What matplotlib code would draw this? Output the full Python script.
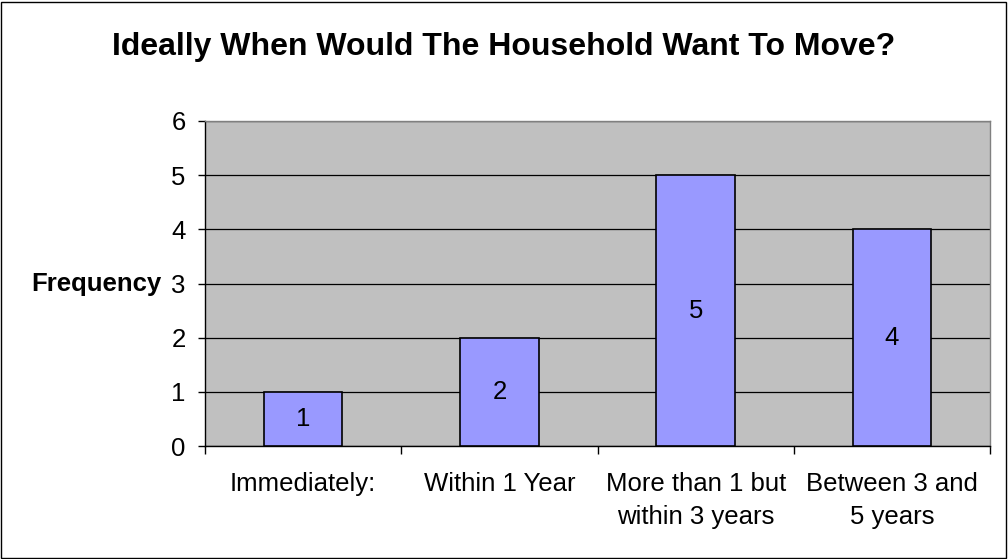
import matplotlib
matplotlib.use("Agg")
import matplotlib.pyplot as plt
from matplotlib.patches import Rectangle

categories = ["Immediately:", "Within 1 Year", "More than 1 but\nwithin 3 years", "Between 3 and\n5 years"]
values = [1, 2, 5, 4]
yticks = [0, 1, 2, 3, 4, 5, 6]

plt.rcParams['font.family'] = ['Liberation Sans', 'DejaVu Sans']

fig = plt.figure(figsize=(10.08, 5.59), dpi=100)
W, H = 1008, 559
ax = fig.add_axes([205 / W, 1 - 446 / H, (990 - 205) / W, (446 - 121) / H])
ax.set_facecolor("#C0C0C0")

FS = 18.5
x = range(len(categories))
bars = ax.bar(x, values, width=0.4, color="#9999FF", edgecolor="black", linewidth=1.2, zorder=3)
for xi, v in zip(x, values):
    ax.text(xi, v / 2, str(v), ha="center", va="center", fontsize=FS, zorder=4)

ax.set_xlim(-0.5, len(categories) - 0.5)
ax.set_ylim(0, 6)
ax.set_yticks(yticks)
ax.set_yticklabels([str(t) for t in yticks], fontsize=FS)
ax.yaxis.grid(True, color="black", linewidth=0.9, zorder=1)
ax.set_axisbelow(True)

ax.set_xticks([i - 0.5 for i in range(len(categories) + 1)])
ax.set_xticklabels([])
ax.set_xticks(list(x), minor=True)
ax.set_xticklabels(categories, minor=True, fontsize=FS, linespacing=1.45)
ax.tick_params(axis="x", which="minor", length=0, pad=19)
ax.tick_params(axis="x", which="major", direction="out", length=6, width=1)
ax.tick_params(axis="y", direction="out", length=5, width=1, pad=9)

for s in ["top", "right"]:
    ax.spines[s].set_color("#808080")
    ax.spines[s].set_linewidth(1)
for s in ["left", "bottom"]:
    ax.spines[s].set_color("black")
    ax.spines[s].set_linewidth(1)

ax.set_ylabel("Frequency", fontsize=FS, fontweight="bold", rotation=0, ha="right", va="center")
ax.yaxis.set_label_coords(-0.055, 0.5)

fig.text(0.5, 1 - 47 / H, "Ideally When Would The Household Want To Move?", ha="center", va="center",
         fontsize=23, fontweight="bold")

fig.patches.append(Rectangle((1 / W, 1 / H), (W - 3) / W, (H - 3) / H, transform=fig.transFigure,
                             fill=False, edgecolor="black", linewidth=1))

fig.savefig("out.png", dpi=100)
